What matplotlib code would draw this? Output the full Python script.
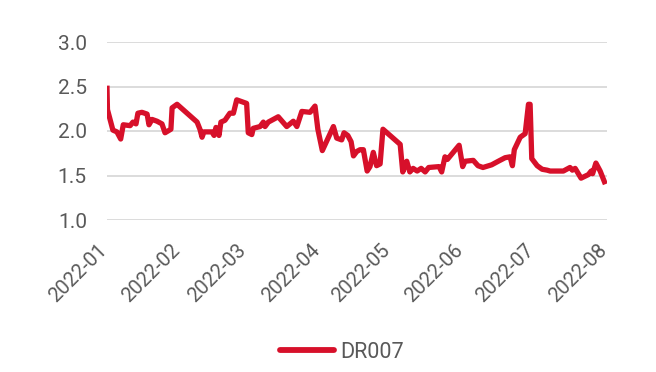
import matplotlib
matplotlib.use("Agg")
import matplotlib.pyplot as plt
import matplotlib.dates as mdates
import matplotlib.transforms as mtransforms
import pandas as pd

# DR007, days counted from 2022-01-01
days = [0, 0.2, 2.5, 4.2, 5.8, 6.9, 9.8, 11.0, 12.3, 13.1, 14.8, 17.0, 17.8, 19.1,
        21.2, 23.3, 24.6, 27.1, 27.6, 29.7, 38.2, 39.4, 40.3, 41.1, 44.5, 45.4,
        46.2, 47.5, 48.3, 50.0, 52.1, 53.6, 55.0, 59.2, 59.9, 61.4, 62.0, 64.9,
        66.3, 67.0, 68.4, 72.6, 76.2, 79.0, 80.5, 82.6, 86.1, 88.2, 89.4, 91.3,
        96.0, 97.4, 99.5, 100.5, 102.1, 103.5, 104.5, 105.9, 107.3, 108.7, 110.3,
        111.5, 112.9, 114.3, 115.8, 117.0, 124.3, 125.4, 127.1, 128.4, 129.8,
        131.5, 133.2, 134.9, 136.4, 140.8, 141.9, 143.3, 144.3, 149.3, 150.8,
        151.8, 155.3, 157.3, 159.4, 163.1, 165.9, 168.8, 170.9, 171.9, 172.7,
        175.2, 177.3, 178.7, 179.4, 180.1, 182.4, 184.5, 186.6, 187.9, 193.5,
        196.3, 197.3, 198.5, 201.0, 204.1, 205.3, 205.9, 207.3, 209.1, 210.9]
dr007 = [2.48, 2.24, 2.01, 1.99, 1.91, 2.07, 2.06, 2.10, 2.08, 2.20, 2.21, 2.19, 2.07, 2.13,
         2.11, 2.08, 1.98, 2.02, 2.26, 2.30, 2.10, 2.02, 1.93, 1.99, 1.99, 1.95,
         2.04, 1.95, 2.10, 2.12, 2.20, 2.20, 2.35, 2.31, 1.98, 1.96, 2.03, 2.05,
         2.10, 2.05, 2.10, 2.16, 2.05, 2.11, 2.05, 2.22, 2.21, 2.28, 2.02, 1.78,
         2.05, 1.92, 1.90, 1.98, 1.95, 1.88, 1.72, 1.77, 1.79, 1.79, 1.55,
         1.60, 1.76, 1.61, 1.63, 2.02, 1.85, 1.54, 1.66, 1.54, 1.58,
         1.55, 1.58, 1.54, 1.59, 1.60, 1.54, 1.71, 1.68, 1.84, 1.60,
         1.66, 1.67, 1.61, 1.59, 1.62, 1.66, 1.70, 1.71, 1.61, 1.79,
         1.93, 1.97, 2.30, 2.30, 1.69, 1.61, 1.57, 1.56, 1.55, 1.55,
         1.59, 1.56, 1.58, 1.47, 1.51, 1.55, 1.52, 1.64, 1.55, 1.43]
months = pd.date_range("2022-01-01", "2022-08-01", freq="MS")
yticks = [1.0, 1.5, 2.0, 2.5, 3.0]

dates = pd.Timestamp("2022-01-01") + pd.to_timedelta(days, unit="D")

plt.rcParams["font.family"] = ["Roboto", "DejaVu Sans"]
grey = "#595959"
red = "#d7102a"

fig = plt.figure(figsize=(6.56, 3.72), dpi=100)
ax = fig.add_axes([107 / 656, 1 - 220 / 372, 500 / 656, 178 / 372])

ax.plot(dates, dr007, color=red, lw=3.8, solid_joinstyle="round", label="DR007",
        zorder=3)

ax.set_xlim(months[0], months[-1])
ax.set_ylim(1.0, 3.0)
ax.set_yticks(yticks)
ax.yaxis.set_major_formatter(matplotlib.ticker.FormatStrFormatter("%.1f"))
ax.set_xticks(months)
ax.xaxis.set_major_formatter(mdates.DateFormatter("%Y-%m"))

ax.grid(axis="y", color="#d9d9d9", lw=1.3)
ax.set_axisbelow(True)
for s in ax.spines.values():
    s.set_visible(False)

ax.tick_params(axis="y", length=0, pad=14.5, labelsize=15, labelcolor=grey)
ax.tick_params(axis="x", length=0, pad=14.5, labelsize=14.5, labelcolor=grey)
shift = mtransforms.ScaledTranslation(4 / 100, 0, fig.dpi_scale_trans)
for lab in ax.get_xticklabels():
    lab.set_rotation(45)
    lab.set_ha("right")
    lab.set_transform(lab.get_transform() + shift)

fig.legend(loc="center", bbox_to_anchor=(342 / 656, 1 - 352 / 372), frameon=False,
           fontsize=15.5, labelcolor=grey, handlelength=2.5, handletextpad=0.3)
leg = fig.legends[0]
leg.get_lines()[0].set_linewidth(4.2)
leg.get_lines()[0].set_solid_capstyle("round")

fig.savefig("out.png", dpi=100)
